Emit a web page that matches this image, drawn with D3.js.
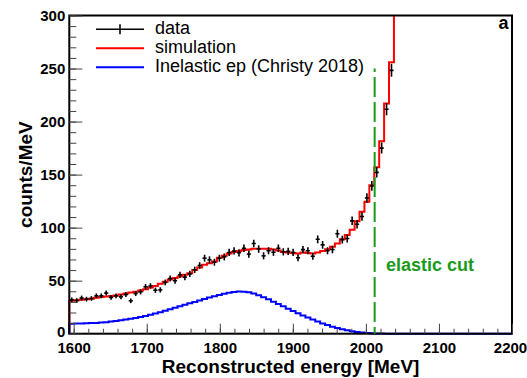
<!DOCTYPE html>
<html>
<head>
<meta charset="utf-8">
<script src="https://cdn.jsdelivr.net/npm/d3@7"></script>
<style>
  html, body { margin: 0; padding: 0; background: #fff; }
  svg { display: block; font-family: "Liberation Sans", Arial, Helvetica, sans-serif; }
</style>
</head>
<body>
<svg id="chart" width="527" height="378"></svg>
<script>
// Binning of the reconstructed-energy histogram (MeV)
const xRange = [1594, 2200];
const nBins = 90;

// Measured spectrum, counts/MeV per bin, and its statistical errors
const dataCounts = [
  32.0, 31.3, 33.6, 32.6, 33.2, 35.7, 35.7, 38.3, 34.2, 35.7,
  34.8, 36.9, 31.0, 37.9, 39.5, 44.2, 45.0, 41.0, 41.3, 48.3,
  52.0, 50.0, 55.5, 53.3, 56.4, 60.2, 64.3, 71.2, 69.6, 67.4,
  71.2, 72.4, 76.6, 78.0, 76.3, 80.6, 75.1, 85.0, 79.8, 73.4,
  78.2, 76.8, 80.6, 77.2, 77.6, 76.6, 71.6, 79.3, 78.2, 73.0,
  89.0, 83.7, 78.2, 79.4, 94.3, 88.7, 89.7, 106.4, 103.2, 110.5,
  127.9, 139.3, 152.1, 175.0, 211.6, 248.3
];
const dataErrors = [
  2.2, 2.2, 2.3, 2.2, 2.2, 2.3, 2.3, 2.4, 2.3, 2.3,
  2.3, 2.4, 2.2, 2.4, 2.5, 2.6, 2.6, 2.5, 2.5, 2.7,
  2.8, 2.8, 2.9, 2.8, 2.9, 3.0, 3.1, 3.3, 3.3, 3.2,
  3.3, 3.3, 3.4, 3.4, 3.4, 3.5, 3.4, 3.6, 3.5, 3.3,
  3.4, 3.4, 3.5, 3.4, 3.4, 3.4, 3.3, 3.5, 3.4, 3.3,
  3.7, 3.6, 3.4, 3.5, 3.8, 3.7, 3.7, 4.0, 4.0, 4.1,
  4.4, 4.6, 4.8, 5.2, 5.7, 6.1
];

// Full simulation (the last bin runs into the elastic peak, above the frame)
const simCounts = [
  31.0, 31.5, 32.0, 32.5, 33.0, 34.0, 34.5, 35.0, 35.5, 36.0,
  37.0, 38.0, 38.8, 39.6, 40.7, 42.0, 43.5, 45.0, 47.0, 49.0,
  51.0, 52.5, 54.0, 55.5, 57.0, 60.0, 62.5, 65.0, 66.5, 68.0,
  71.5, 73.5, 75.5, 77.0, 78.0, 79.0, 79.5, 80.0, 80.0, 80.0,
  80.0, 79.5, 78.5, 77.0, 76.5, 76.0, 75.5, 76.5, 76.0, 75.5,
  76.5, 78.0, 79.6, 82.0, 85.0, 89.0, 93.0, 98.0, 106.0, 115.0,
  124.5, 140.0, 157.0, 181.5, 217.0, 256.0, 340.0
];

// Inelastic ep contribution (Christy 2018)
const inelasticCounts = [
  9.4, 9.5, 9.6, 9.8, 10.0, 10.2, 10.5, 10.9, 11.4, 12.0,
  12.6, 13.3, 14.0, 14.8, 15.7, 16.7, 17.8, 19.0, 20.3, 21.6,
  23.0, 24.4, 25.8, 27.2, 28.6, 30.0, 31.4, 32.8, 34.1, 35.4,
  36.6, 37.7, 38.6, 39.3, 39.7, 39.6, 39.0, 37.8, 36.2, 34.4,
  32.4, 30.2, 28.0, 25.8, 23.6, 21.4, 19.3, 17.2, 15.2, 13.3,
  11.4, 9.7, 8.1, 6.6, 5.3, 4.2, 3.2, 2.4, 1.7, 1.1,
  0.7, 0.4, 0.2, 0.1, 0, 0, 0, 0, 0, 0,
  0, 0, 0, 0, 0, 0, 0, 0, 0, 0,
  0, 0, 0, 0, 0, 0, 0, 0, 0, 0
];

const xTicks = [1600, 1700, 1800, 1900, 2000, 2100, 2200];
const yTicks = [0, 50, 100, 150, 200, 250, 300];
const yMax = 300;
const elasticCut = 2012;
const elasticCutTop = 250;
const legendLabels = ["data", "simulation", "Inelastic ep (Christy 2018)"];
const legendColors = ["#000000", "#ff0000", "#0000ff"];

const RED = "#ff0000", BLUE = "#0000ff", GREEN = "#1a9a1a";
const plot = { left: 69.3, right: 512, top: 15.5, bottom: 333.7 };

const svg = d3.select("#chart");
const x = d3.scaleLinear().domain(xRange).range([plot.left, plot.right]);
const y = d3.scaleLinear().domain([0, yMax]).range([plot.bottom, plot.top]);

const binW = (xRange[1] - xRange[0]) / nBins;
const edge = i => xRange[0] + i * binW;

// Clip everything that climbs past the top of the frame
svg.append("defs").append("clipPath").attr("id", "clipTop")
  .append("rect").attr("x", 0).attr("y", plot.top).attr("width", 527).attr("height", 378 - plot.top);

// Step outline of a histogram, starting on the zero line;
// it returns to zero at the end only when closeEnd is set
function stepPath(vals, closeEnd) {
  const p = d3.path();
  p.moveTo(x(edge(0)), y(0));
  vals.forEach((v, i) => {
    p.lineTo(x(edge(i)), y(v));
    p.lineTo(x(edge(i + 1)), y(v));
  });
  if (closeEnd) p.lineTo(x(edge(vals.length)), y(0));
  return p.toString();
}

const g = svg.append("g").attr("clip-path", "url(#clipTop)");

// Frame
svg.append("rect")
  .attr("x", plot.left).attr("y", plot.top)
  .attr("width", plot.right - plot.left).attr("height", plot.bottom - plot.top)
  .attr("fill", "none").attr("stroke", "#000").attr("stroke-width", 2);

// Axes (ticks point into the frame)
function styleAxis(sel) {
  sel.select(".domain").remove();
  sel.selectAll(".tick line").attr("stroke", "#444").attr("stroke-width", 1);
  sel.selectAll(".tick text").attr("fill", "#000")
    .style("font-size", "15px").style("font-weight", "bold")
    .style("font-family", "'Liberation Sans', Arial, sans-serif");
}
function minorOnly(sel) {
  sel.selectAll(".tick text").remove();
}
svg.append("g").attr("transform", `translate(0,${plot.bottom})`)
  .call(d3.axisBottom(x).tickValues(d3.range(1600, 2201, 20)).tickSize(-5))
  .call(styleAxis).call(minorOnly);
const xMajor = svg.append("g").attr("transform", `translate(0,${plot.bottom})`)
  .call(d3.axisBottom(x).tickValues(xTicks).tickSize(-10).tickPadding(8.2).tickFormat(d3.format("d")))
  .call(styleAxis);
// keep the last label inside the canvas
xMajor.selectAll(".tick text").filter(d => d === xTicks[xTicks.length - 1]).attr("dx", -2);
svg.append("g").attr("transform", `translate(${plot.left},0)`)
  .call(d3.axisLeft(y).tickValues(d3.range(0, 301, 10)).tickSize(-7))
  .call(styleAxis).call(minorOnly);
const yMajor = svg.append("g").attr("transform", `translate(${plot.left},0)`)
  .call(d3.axisLeft(y).tickValues(yTicks).tickSize(-13).tickPadding(4).tickFormat(d3.format("d")))
  .call(styleAxis);
// the zero label sits a little higher, clear of the x labels
yMajor.selectAll(".tick text").filter(d => d === 0).attr("dy", "0.18em");

// Histograms
g.append("path").attr("d", stepPath(simCounts, false))
  .attr("fill", "none").attr("stroke", RED).attr("stroke-width", 2);
g.append("path").attr("d", stepPath(inelasticCounts, true))
  .attr("fill", "none").attr("stroke", BLUE).attr("stroke-width", 2);

// Data points with error bars
const pts = g.append("g").attr("stroke", "#000").attr("stroke-width", 1.6);
dataCounts.forEach((v, i) => {
  const xc = x(edge(i) + binW / 2);
  pts.append("line")
    .attr("x1", x(edge(i)) + 0.4).attr("x2", x(edge(i + 1)) - 0.4)
    .attr("y1", y(v)).attr("y2", y(v));
  pts.append("line")
    .attr("x1", xc).attr("x2", xc)
    .attr("y1", y(v - dataErrors[i])).attr("y2", y(v + dataErrors[i]));
});

// Elastic cut
svg.append("line")
  .attr("x1", x(elasticCut)).attr("x2", x(elasticCut))
  .attr("y1", y(elasticCutTop)).attr("y2", y(0))
  .attr("stroke", GREEN).attr("stroke-width", 2)
  .attr("stroke-dasharray", "20,5").attr("stroke-dashoffset", 16.6);
svg.append("text")
  .attr("x", 386).attr("y", 271)
  .attr("fill", GREEN).style("font-size", "18px").style("font-weight", "bold")
  .text("elastic cut");

// Axis titles
svg.append("text")
  .attr("x", (plot.left + plot.right) / 2).attr("y", 372.5)
  .attr("text-anchor", "middle")
  .style("font-size", "19px").style("font-weight", "bold")
  .text("Reconstructed energy [MeV]");
svg.append("text")
  .attr("transform", `translate(32,${(plot.top + plot.bottom) / 2}) rotate(-90)`)
  .attr("text-anchor", "middle")
  .style("font-size", "19px").style("font-weight", "bold")
  .text("counts/MeV");

// Panel label
svg.append("text")
  .attr("x", 508.5).attr("y", 29.3).attr("text-anchor", "end")
  .style("font-size", "18px").style("font-weight", "bold")
  .text("a");

// Legend
const leg = svg.append("g");
legendLabels.forEach((label, i) => {
  const ly = 29.3 + i * 19;
  leg.append("line")
    .attr("x1", 96).attr("x2", 144).attr("y1", ly).attr("y2", ly)
    .attr("stroke", legendColors[i]).attr("stroke-width", i === 0 ? 1.6 : 2);
  if (i === 0) {
    leg.append("line")
      .attr("x1", 120).attr("x2", 120).attr("y1", ly - 5).attr("y2", ly + 5)
      .attr("stroke", "#000").attr("stroke-width", 1.6);
  }
  leg.append("text")
    .attr("x", 155).attr("y", ly + 4.2)
    .style("font-size", "18px")
    .text(label);
});
</script>
</body>
</html>
